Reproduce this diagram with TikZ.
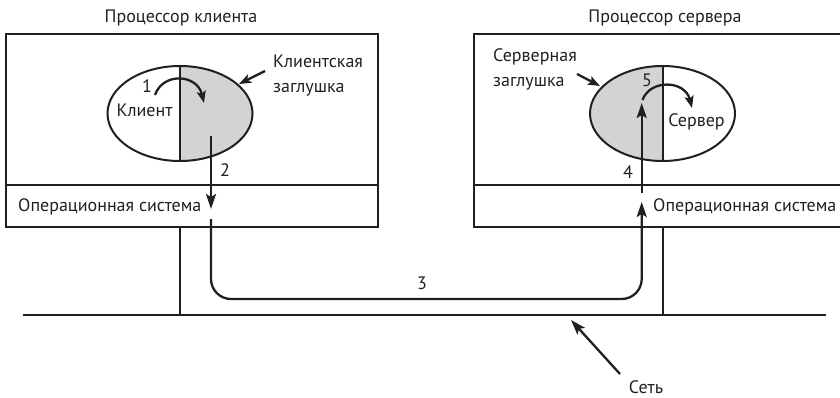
\documentclass[tikz,border=0pt]{standalone}
\usepackage{fontspec}
\setmainfont{PT Sans}
\usetikzlibrary{arrows.meta,shapes.geometric}
\definecolor{stubgray}{HTML}{D1D3D4}
\definecolor{ink}{HTML}{231F20}
\begin{document}
\begin{tikzpicture}[x=1pt,y=-1pt,
  frame/.style={line width=2pt, draw=ink},
  lbl/.style={font=\fontsize{18}{25}\selectfont, inner sep=0pt, text=ink},
  flow/.style={line width=2.3pt, draw=ink, -{Stealth[length=15pt,width=10pt,inset=3pt]}},
  ptr/.style={line width=2.3pt, draw=ink, -{Stealth[length=12pt,width=9pt,inset=2.5pt]}},
  proc/.style={ellipse, draw=ink, line width=2pt, inner sep=0pt, minimum width=145pt, minimum height=95pt}
]
\useasboundingbox (0,0) rectangle (840,398);
% processor boxes
\draw[frame] (6,34) rectangle (378,227);
\draw[frame] (6,185) -- (378,185);
\draw[frame] (474,34) rectangle (850,227);
\draw[frame] (474,185) -- (850,185);
% network
\coordinate (netL) at (23,315);
\coordinate (netR) at (826,315);
\draw[frame] (netL) -- (netR);
\coordinate (supL) at (180,227);
\coordinate (supR) at (663,227);
\draw[frame] (supL) -- (supL |- netL);
\draw[frame] (supR) -- (supR |- netL);
% titles
\node[lbl] (tcl) at (181,18) {Процессор клиента};
\node[lbl] (tsv) at (665,18) {Процессор сервера};
% client ellipse
\node[proc, path picture={\fill[stubgray] (path picture bounding box.north) rectangle (path picture bounding box.south east);}] (cl) at (180,113.5) {};
\draw[frame] (cl.north) -- (cl.south);
% server ellipse
\node[proc, path picture={\fill[stubgray] (path picture bounding box.north west) rectangle (path picture bounding box.south);}] (sv) at (662.5,113.5) {};
\draw[frame] (sv.north) -- (sv.south);
% labels
\node[lbl] (klient) at (144.5,110) {Клиент};
\node[lbl] (n1) at (147,86) {1};
\node[lbl] (server) at (696.5,121.5) {Сервер};
\node[lbl] (n5) at (647,80) {5};
\node[lbl, align=left, anchor=west] (cstub) at (273,75.5) {Клиентская\\заглушка};
\node[lbl, align=left, anchor=west] (sstub) at (493,69.5) {Серверная\\заглушка};
\node[lbl, anchor=west] (osl) at (18,207) {Операционная система};
\node[lbl, anchor=west] (osr) at (653,207) {Операционная система};
\node[lbl] (n2) at (225,170) {2};
\node[lbl] (n4) at (628,172) {4};
\node[lbl] (n3) at (422,283) {3};
\node[lbl] (net) at (646,387) {Сеть};
% stub pointers
\coordinate (cs1) at (265,71);
\coordinate (cs2) at (239,84);
\draw[ptr] (cs1) -- (cs2);
\coordinate (ss1) at (577,74);
\coordinate (ss2) at (600,86);
\draw[ptr] (ss1) -- (ss2);
% local calls
\coordinate (c1a) at (155,95);
\coordinate (c1b) at (204,103);
\draw[ptr] (c1a) .. controls (163,72) and (197,74) .. (c1b);
\coordinate (c5a) at (642.5,100);
\coordinate (c5b) at (692,108);
\draw[ptr] (c5a) .. controls (650,79) and (685,80) .. (c5b);
% message path
\coordinate (m2a) at (211,136);
\coordinate (m2b) at (211,209);
\draw[flow] (m2a) -- (m2b);
\coordinate (r1) at (211,219);
\coordinate (r2) at (641.7,299);
\coordinate (r3) at (641.7,202);
\draw[flow, rounded corners=20pt] (r1) |- (r2) -- (r3);
\coordinate (m4a) at (641.7,193);
\coordinate (m4b) at (641.7,103);
\draw[flow] (m4a) -- (m4b);
% network pointer
\coordinate (np1) at (620,374);
\coordinate (np2) at (571,320);
\draw[flow] (np1) -- (np2);
\end{tikzpicture}
\end{document}
